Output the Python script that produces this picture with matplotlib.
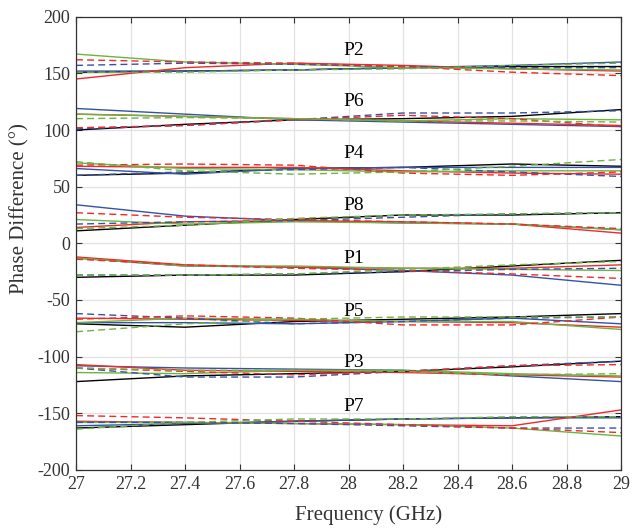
import matplotlib
matplotlib.use("Agg")
import matplotlib.pyplot as plt
import numpy as np

plt.rcParams["font.family"] = ["Liberation Serif", "DejaVu Serif"]
plt.rcParams["axes.unicode_minus"] = False

# frequency samples (GHz)
freq = [27.0, 27.4, 27.8, 28.2, 28.6, 29.0]

# phase differences per port, order: solid k, b, r, g ; dashed b, r, g
P2 = [
    [151, 152, 153, 155, 156, 156],
    [152, 152, 153, 155, 157, 160],
    [145, 155, 159, 157, 154, 152],
    [167, 160, 158, 155, 154, 153],
    [157, 159, 158, 156, 155, 155],
    [162, 160, 159, 156, 151, 148],
    [151, 151, 153, 154, 157, 159],
]
P6 = [
    [100, 105, 109, 110, 112, 118],
    [119, 114, 109, 107, 105, 103],
    [114, 112, 110, 108, 106, 104],
    [114, 112, 110, 108, 110, 109],
    [101, 104, 109, 115, 115, 117],
    [102, 104, 109, 113, 110, 103],
    [110, 111, 110, 108, 108, 107],
]
P4 = [
    [60, 62, 66, 67, 70, 68],
    [66, 61, 66, 67, 67, 67],
    [68, 67, 67, 64, 62, 61],
    [71, 66, 65, 63, 64, 64],
    [60, 63, 65, 67, 63, 59],
    [69, 70, 69, 62, 60, 63],
    [72, 64, 61, 63, 68, 74],
]
P8 = [
    [11, 16, 21, 25, 25, 27],
    [34, 24, 20, 18, 17, 12],
    [14, 19, 20, 19, 17, 9],
    [21, 17, 19, 18, 17, 12],
    [17, 19, 20, 23, 26, 27],
    [27, 23, 21, 19, 17, 13],
    [13, 16, 22, 25, 26, 27],
]
P1 = [
    [-30, -28, -28, -25, -20, -15],
    [-13, -20, -21, -24, -28, -37],
    [-12, -19, -21, -22, -22, -19],
    [-13, -20, -20, -22, -23, -24],
    [-28, -28, -27, -25, -23, -22],
    [-14, -19, -22, -24, -27, -31],
    [-28, -28, -27, -23, -19, -16],
]
P5 = [
    [-71, -74, -69, -67, -65, -62],
    [-70, -70, -71, -69, -66, -71],
    [-66, -67, -68, -69, -70, -74],
    [-70, -66, -67, -69, -69, -76],
    [-62, -66, -71, -69, -66, -65],
    [-67, -64, -66, -72, -72, -65],
    [-78, -71, -67, -65, -65, -65],
]
P3 = [
    [-122, -117, -115, -113, -109, -104],
    [-108, -110, -111, -112, -117, -122],
    [-107, -112, -113, -114, -116, -118],
    [-114, -115, -112, -112, -115, -117],
    [-110, -118, -118, -113, -108, -104],
    [-110, -113, -116, -113, -108, -107],
    [-110, -112, -112, -113, -116, -115],
]
P7 = [
    [-163, -160, -157, -155, -154, -153],
    [-161, -159, -157, -155, -154, -154],
    [-157, -158, -159, -160, -161, -147],
    [-158, -158, -159, -160, -163, -170],
    [-158, -158, -159, -161, -163, -163],
    [-152, -154, -157, -160, -163, -167],
    [-164, -158, -155, -155, -153, -153],
]

ports = {"P2": P2, "P6": P6, "P4": P4, "P8": P8, "P1": P1, "P5": P5, "P3": P3, "P7": P7}
label_y = {"P2": 170, "P6": 125, "P4": 79, "P8": 33, "P1": -13, "P5": -60, "P3": -105, "P7": -144}

colors = ["black", "#3553a6", "#ee2a2a", "#6cb440", "#3553a6", "#ee2a2a", "#6cb440"]
styles = ["-", "-", "-", "-", "--", "--", "--"]

fig = plt.figure(figsize=(6.34, 5.31), dpi=100)
ax = fig.add_axes([0.1199, 0.1149, 0.8596, 0.8537])

for name, curves in ports.items():
    for vals, c, ls in zip(curves, colors, styles):
        line, = ax.plot(freq, vals, color=c, linestyle=ls, linewidth=1.0)
        if ls == "--":
            line.set_dashes((5, 3))
    ax.text(27.983, label_y[name], name, fontsize=14, ha="left", va="center")

ax.set_xlim(27, 29)
ax.set_ylim(-200, 200)
ax.set_xticks(np.arange(27, 29.01, 0.2))
ax.set_xticklabels(["27", "27.2", "27.4", "27.6", "27.8", "28", "28.2", "28.4", "28.6", "28.8", "29"])
ax.set_yticks(np.arange(-200, 201, 50))
ax.grid(True, color="#e2e2e2", linewidth=0.9)
ax.set_axisbelow(True)
ax.tick_params(direction="in", top=True, right=True, labelsize=13, length=4, pad=4,
               colors="#333333")
for s in ax.spines.values():
    s.set_color("#333333")
    s.set_linewidth(0.9)
ax.set_xlabel("Frequency (GHz)", fontsize=15, color="#333333")
ax.set_ylabel("Phase Difference (°)", fontsize=15, color="#333333")
ax.xaxis.set_label_coords(0.537, -0.078)
ax.yaxis.set_label_coords(-0.086, 0.576)

fig.savefig("out.png", dpi=100)
